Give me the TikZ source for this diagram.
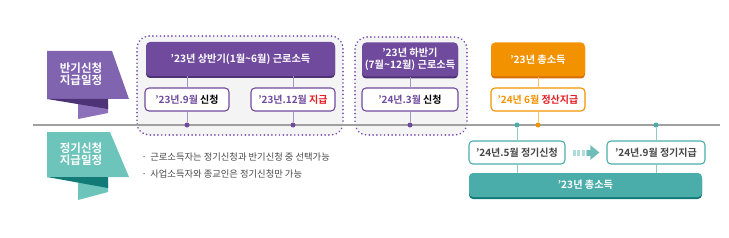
\documentclass[tikz,border=0pt]{standalone}
\usepackage{fontspec}
\setmainfont{Noto Sans CJK KR}[BoldFont={Noto Sans CJK KR Bold}]
\usetikzlibrary{arrows.meta, positioning, shadows}
\definecolor{clrP}   {RGB}{112, 74,157}
\definecolor{clrPdk} {RGB}{ 78, 50,118}
\definecolor{clrPbn} {RGB}{128,100,176}
\definecolor{clrPtl} {RGB}{140,112,186}
\definecolor{clrPdot}{RGB}{120, 80,176}
\definecolor{clrT}   {RGB}{ 75,173,170}
\definecolor{clrTdk} {RGB}{ 18,122,119}
\definecolor{clrTbn} {RGB}{108,196,187}
\definecolor{clrTln} {RGB}{140,205,200}
\definecolor{clrO}   {RGB}{243,146,  0}
\definecolor{clrOdk} {RGB}{214,110,  0}
\definecolor{clrR}   {RGB}{228, 30, 36}
\definecolor{clrBg}  {RGB}{244,244,245}
\definecolor{clrLn}  {RGB}{160,160,160}
\definecolor{clrTx}  {RGB}{ 70, 70, 70}
\tikzset{
  hdbox/.style={rectangle, rounded corners=4pt, fill=#1, text=white, align=center,
    font=\fontsize{10.2}{12.5}\selectfont\bfseries, inner sep=0pt, minimum height=34pt},
  subbox/.style={rectangle, rounded corners=4pt, draw=#1, line width=1.1pt, fill=white,
    font=\fontsize{10}{11}\selectfont\bfseries, inner sep=0pt, minimum height=23pt},
  dashbox/.style={draw=clrPdot, fill=clrBg, line width=1.8pt, rounded corners=12pt,
    dash pattern=on 0.1pt off 3.7pt, line cap=round},
  dotnode/.style={circle, fill=#1, inner sep=0pt, minimum size=5pt},
  conn/.style={line width=0.8pt, draw=#1},
  bannertx/.style={text=white, align=center, font=\fontsize{11.5}{12.5}\selectfont\bfseries},
  notetx/.style={anchor=west, text=clrTx, font=\fontsize{9.3}{11}\selectfont},
}
\begin{document}
\begin{tikzpicture}[x=1pt,y=-1pt]
\useasboundingbox (0,0) rectangle (729,238);
% banners
\fill[clrPtl] (78,104) -- (108,104) -- (108,113) -- (78,119) -- cycle;
\fill[clrPbn] (47,51) -- (112,51) -- (129,99) -- (47,99) -- cycle;
\fill[clrPdk] (47,99) -- (108,99) -- (108,109) -- cycle;
\node[bannertx] (bnP) at (81,74) {반기신청\\지급일정};
\fill[clrTbn] (78,183) -- (108,183) -- (108,192) -- (78,200) -- cycle;
\fill[clrTbn] (47,132) -- (110,132) -- (129,177) -- (47,177) -- cycle;
\fill[clrTdk] (47,177) -- (108,177) -- (108,188) -- cycle;
\node[bannertx] (bnT) at (81,154) {정기신청\\지급일정};
% half-year groups
\path[dashbox] (137,36) rectangle (343,135);
\path[dashbox] (355,37) rectangle (467,135);
\draw[clrLn, line width=1.4pt] (33,125) -- (720,125);
\node[hdbox=clrP, minimum width=189pt, drop shadow={shadow xshift=0pt, shadow yshift=-2pt, fill=clrPdk, opacity=1}]
  (h1) at (240.5,59) {’23년 상반기(1월\textasciitilde6월) 근로소득};
\node[subbox=clrP, minimum width=84pt] (s1a) at (187,99.5) {\textcolor{clrP}{’23년.9월} 신청};
\node[subbox=clrP, minimum width=84pt] (s1b) at (293,99.5) {\textcolor{clrP}{’23년.12월} \textcolor{clrR}{지급}};
\node[hdbox=clrP, minimum width=96pt, drop shadow={shadow xshift=0pt, shadow yshift=-2pt, fill=clrPdk, opacity=1}]
  (h2) at (410,59.5) {’23년 하반기\\(7월\textasciitilde12월) 근로소득};
\node[subbox=clrP, minimum width=96pt] (s2) at (410,99.5) {\textcolor{clrP}{’24년.3월} 신청};
\node[dotnode=clrP] (d1) at (187,125) {};
\node[dotnode=clrP] (d2) at (293,125) {};
\node[dotnode=clrP] (d3) at (410,125) {};
\draw[conn=clrP!60] (h1.south -| s1a) -- (s1a.north);
\draw[conn=clrP!60] (s1a.south) -- (d1);
\draw[conn=clrP!60] (h1.south -| s1b) -- (s1b.north);
\draw[conn=clrP!60] (s1b.south) -- (d2);
\draw[conn=clrP!60] (h2.south) -- (s2.north);
\draw[conn=clrP!60] (s2.south) -- (d3);
% year-end settlement
\node[hdbox=clrO, minimum width=94pt, drop shadow={shadow xshift=0pt, shadow yshift=-2pt, fill=clrOdk, opacity=1}]
  (o1) at (538,59.5) {’23년 총소득};
\node[subbox=clrO, minimum width=94pt] (o2) at (538,99.5) {\textcolor{clrO}{’24년 6월} \textcolor{clrR}{정산지급}};
\node[dotnode=clrO] (d4) at (538,125) {};
\draw[conn=clrO!60] (o1.south) -- (o2.north);
\draw[conn=clrO!60] (o2.south) -- (d4);
% regular schedule
\node[hdbox=clrT, minimum width=233pt, minimum height=24pt, drop shadow={shadow xshift=0pt, shadow yshift=-2pt, fill=clrTdk, opacity=1}]
  (tb) at (585.5,185) {’23년 총소득};
\node[subbox=clrT, minimum width=96pt, text=clrTx] (t1) at (517,152.5) {’24년.5월 정기신청};
\node[subbox=clrT, minimum width=98pt, text=clrTx] (t2) at (656,152.5) {’24년.9월 정기지급};
\node[dotnode=clrT] (d5) at (517,125) {};
\node[dotnode=clrT] (d6) at (656,125) {};
\draw[conn=clrTln] (d5) -- (t1.north);
\draw[conn=clrTln] (t1.south) -- (tb.north -| t1);
\draw[conn=clrTln] (d6) -- (t2.north);
\draw[conn=clrTln] (t2.south) -- (tb.north -| t2);
\draw[clrTln!70, line width=6pt, dash pattern=on 3pt off 1.5pt] ([xshift=7pt]t1.east) -- ++(14,0) coordinate (a1);
\draw[clrT!80, line width=6pt, -{Triangle[length=9pt,width=14pt]}] (a1) -- ([xshift=-7pt]t2.west);
% notes
\node[notetx] (n1) at (138,157) {·\, 근로소득자는 정기신청과 반기신청 중 선택가능};
\node[notetx] (n2) at (138,174) {·\, 사업소득자와 종교인은 정기신청만 가능};
\end{tikzpicture}
\end{document}
